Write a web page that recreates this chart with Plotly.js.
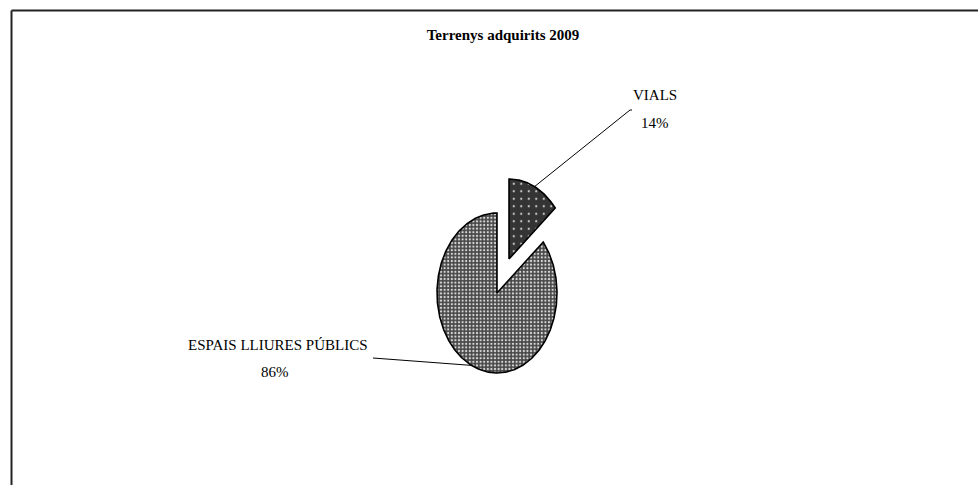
<!DOCTYPE html>
<html><head><meta charset="utf-8">
<script src="https://cdn.plot.ly/plotly-3.0.1.min.js"></script>
<style>html,body{margin:0;padding:0;background:#fff}#chart{width:978px;height:485px}</style>
</head><body><div id="chart"></div>
<script>
// ---- data ----
const categories = ['VIALS', 'ESPAIS LLIURES PÚBLICS'];
const values = [14, 86];
const pulls = [0.47, 0];
const chartTitle = 'Terrenys adquirits 2009';

// ---- styles ----
const patterns = [
  {shape: '.', bgcolor: '#343434', fgcolor: '#c8c8c8', size: 7.5, solidity: 0.07},
  {shape: '.', bgcolor: '#474747', fgcolor: '#d8d8d8', size: 3.6, solidity: 0.3}
];
const namePos = [{x: 2.633, y: 2.475}, {x: -3.65, y: -0.65}];
const pctPos = [{x: 2.633, y: 2.125}, {x: -3.70, y: -0.9875}];
const lineEnd = [[{x: 2.217, y: 2.2875}, {x: 2.25, y: 2.2875}], [{x: -2.067, y: -0.8125}]];

const total = values.reduce((a, b) => a + b, 0);
const traces = [];
const annotations = [];
const lblFont = {family: 'Liberation Serif, Times New Roman, serif', size: 15, color: '#000'};
let start = 0;
values.forEach((v, i) => {
  const sweep = v / total * 2 * Math.PI;
  const a0 = start, a1 = start + sweep, mid = (a0 + a1) / 2;
  const ox = pulls[i] * Math.sin(mid), oy = pulls[i] * Math.cos(mid);
  const xs = [ox], ys = [oy];
  const n = Math.max(4, Math.ceil(sweep / (Math.PI / 240)));
  for (let k = 0; k <= n; k++) {
    const a = a0 + sweep * k / n;
    xs.push(ox + Math.sin(a)); ys.push(oy + Math.cos(a));
  }
  xs.push(ox); ys.push(oy);
  traces.push({
    type: 'scatter', x: xs, y: ys, mode: 'lines', fill: 'toself',
    fillcolor: patterns[i].bgcolor, fillpattern: patterns[i],
    line: {color: '#000', width: 1.6}, hoverinfo: 'skip', showlegend: false
  });
  const px = ox + Math.sin(mid), py = oy + Math.cos(mid);
  const lx = [px].concat(lineEnd[i].map(p => p.x));
  const ly = [py].concat(lineEnd[i].map(p => p.y));
  traces.push({
    type: 'scatter', x: lx, y: ly, mode: 'lines',
    line: {color: '#000', width: 1}, hoverinfo: 'skip', showlegend: false
  });
  const pct = Math.round(v / total * 100) + '%';
  annotations.push({
    x: namePos[i].x, y: namePos[i].y, xref: 'x', yref: 'y', text: categories[i],
    showarrow: false, xanchor: 'center', yanchor: 'middle', font: lblFont
  });
  annotations.push({
    x: pctPos[i].x, y: pctPos[i].y, xref: 'x', yref: 'y', text: pct,
    showarrow: false, xanchor: 'center', yanchor: 'middle', font: lblFont
  });
  start = a1;
});

const W = 978, H = 485;
const layout = {
  width: W, height: H,
  margin: {l: 0, r: 0, t: 0, b: 0},
  paper_bgcolor: '#fff', plot_bgcolor: '#fff',
  title: {
    text: '<b>' + chartTitle + '</b>',
    font: {family: 'Liberation Serif, Times New Roman, serif', size: 15, color: '#000'},
    x: 503 / W, xanchor: 'center', xref: 'paper',
    y: 1 - 35 / H, yanchor: 'middle', yref: 'container'
  },
  xaxis: {range: [-497 / 60, (W - 497) / 60], visible: false, fixedrange: true},
  yaxis: {range: [(293 - H) / 80, 293 / 80], visible: false, fixedrange: true},
  showlegend: false,
  annotations: annotations,
  shapes: [
    {type: 'line', xref: 'paper', yref: 'paper', x0: 11.5 / W, x1: 1.01, y0: 1 - 10.5 / H, y1: 1 - 10.5 / H, line: {color: '#222', width: 2}},
    {type: 'line', xref: 'paper', yref: 'paper', x0: 11.5 / W, x1: 11.5 / W, y0: 1 - 10.5 / H, y1: -0.01, line: {color: '#222', width: 2}}
  ]
};
Plotly.newPlot('chart', traces, layout, {displayModeBar: false, staticPlot: true});
</script>
</body></html>
